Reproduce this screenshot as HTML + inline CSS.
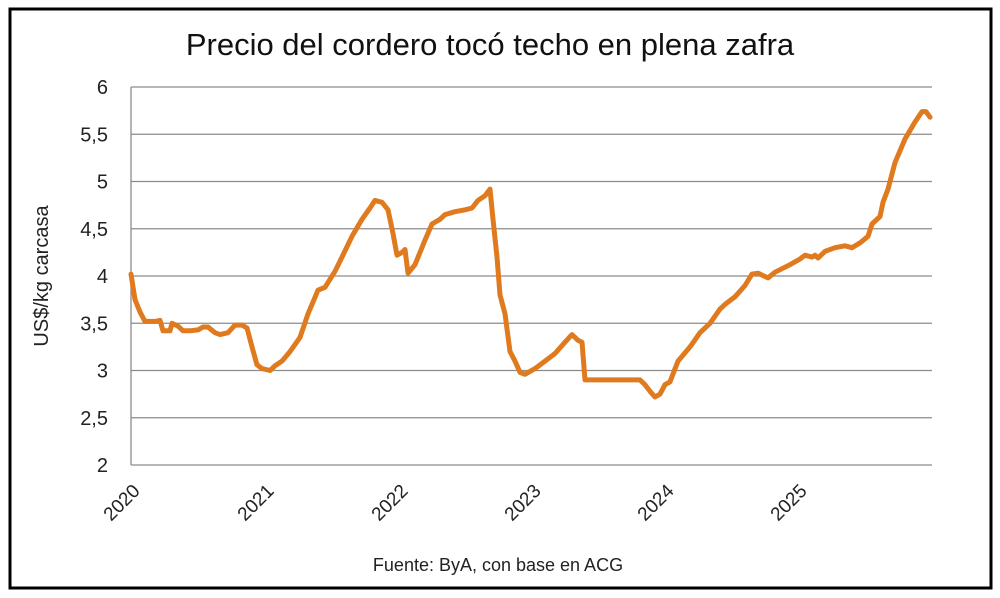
<!DOCTYPE html>
<html><head><meta charset="utf-8"><style>
body{margin:0;background:#fff;}
svg{display:block;font-family:"Liberation Sans",sans-serif;}
</style></head><body>
<svg id="s" width="1000" height="598" viewBox="0 0 1000 598">
<rect x="0" y="0" width="1000" height="598" fill="#fff"/>
<rect x="10" y="9" width="981" height="579" fill="none" stroke="#000" stroke-width="3"/>
<text x="490" y="55" font-size="31" text-anchor="middle" fill="#111">Precio del cordero tocó techo en plena zafra</text>
<g id="grid" stroke="#8c8c8c" stroke-width="1.3"></g>
<line x1="131" y1="87" x2="131" y2="465" stroke="#8c8c8c" stroke-width="1.3"/>
<g id="yl" font-size="20" fill="#222" text-anchor="end"></g>
<text transform="translate(48,276) rotate(-90)" font-size="20" text-anchor="middle" fill="#222">US$/kg carcasa</text>
<g id="xl" font-size="19" fill="#222" text-anchor="end"></g>
<polyline id="line" fill="none" stroke="#E07A1F" stroke-width="5" stroke-linejoin="round" stroke-linecap="round"/>
<text x="498" y="571" font-size="18" text-anchor="middle" fill="#222">Fuente: ByA, con base en ACG</text>
</svg>
<script>
var ns="http://www.w3.org/2000/svg";
function Y(v){return 465-(v-2)*94.5;}
var g=document.getElementById("grid"),yl=document.getElementById("yl"),xl=document.getElementById("xl");
var labs=["2","2,5","3","3,5","4","4,5","5","5,5","6"];
for(var i=0;i<9;i++){var v=2+i*0.5,y=Y(v);
var l=document.createElementNS(ns,"line");l.setAttribute("x1",131);l.setAttribute("x2",932);l.setAttribute("y1",y);l.setAttribute("y2",y);g.appendChild(l);
var t=document.createElementNS(ns,"text");t.setAttribute("x",108);t.setAttribute("y",y+7);t.textContent=labs[i];yl.appendChild(t);}
var yrs=[[131,"2020"],[265,"2021"],[399,"2022"],[532,"2023"],[665,"2024"],[798,"2025"]];
yrs.forEach(function(a){var t=document.createElementNS(ns,"text");t.setAttribute("transform","translate("+(a[0]+10)+",492) rotate(-45)");t.textContent=a[1];xl.appendChild(t);});
var d=[131,4.02,135,3.75,140,3.62,145,3.52,155,3.52,160,3.53,163,3.42,170,3.42,172,3.50,178,3.47,183,3.42,190,3.42,198,3.43,203,3.46,208,3.46,215,3.40,220,3.38,228,3.40,235,3.48,242,3.48,247,3.45,252,3.25,257,3.06,262,3.02,270,3.00,275,3.05,282,3.10,290,3.20,300,3.35,308,3.60,318,3.85,325,3.88,335,4.05,342,4.20,352,4.42,362,4.60,370,4.72,375,4.80,382,4.78,388,4.70,393,4.45,397,4.22,402,4.25,405,4.28,408,4.03,415,4.12,420,4.25,425,4.38,432,4.55,440,4.60,445,4.65,455,4.68,465,4.70,472,4.72,478,4.80,485,4.85,490,4.92,493,4.60,497,4.20,500,3.80,505,3.60,510,3.20,515,3.10,520,2.98,525,2.96,535,3.02,545,3.10,555,3.18,565,3.30,572,3.38,578,3.32,582,3.30,585,2.90,600,2.90,620,2.90,640,2.90,645,2.85,650,2.78,655,2.72,660,2.75,665,2.85,670,2.88,678,3.10,690,3.25,700,3.40,710,3.50,720,3.65,725,3.70,735,3.78,745,3.90,752,4.02,758,4.03,768,3.98,775,4.04,790,4.12,800,4.18,805,4.22,812,4.20,815,4.22,818,4.19,825,4.26,835,4.30,845,4.32,852,4.30,860,4.35,868,4.42,872,4.55,880,4.63,883,4.78,888,4.92,895,5.20,905,5.45,915,5.63,922,5.74,926,5.74,930,5.68];
var p=[];for(var i=0;i<d.length;i+=2)p.push(d[i]+","+Y(d[i+1]).toFixed(1));
document.getElementById("line").setAttribute("points",p.join(" "));
</script>
</body></html>
